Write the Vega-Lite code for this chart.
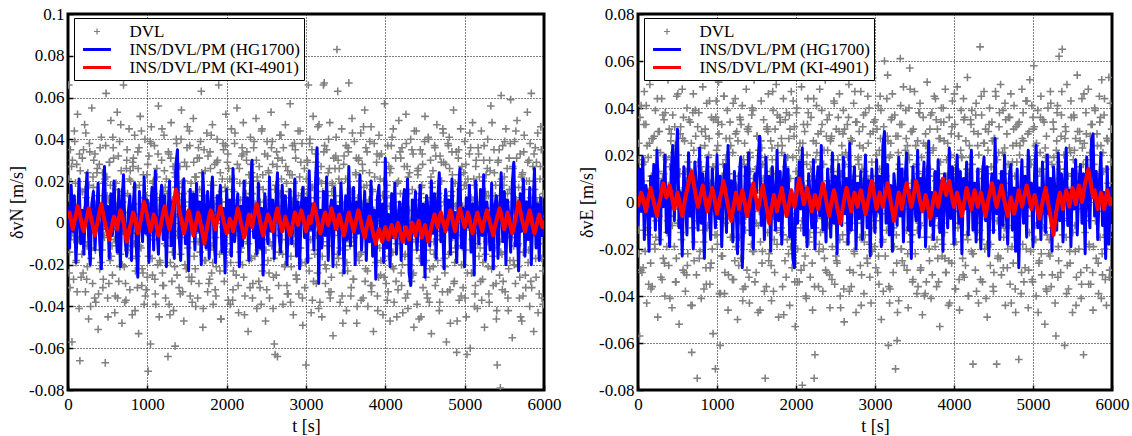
{
"$schema":"https://vega.github.io/schema/vega-lite/v6.json",
"background":"white",
"padding":{"left":7,"top":3,"right":0,"bottom":0},
"spacing":14,
"config":{
"font":"Liberation Serif, Times New Roman, serif",
"view":{"stroke":"black","strokeWidth":3},
"axis":{"domain":false,"grid":true,"gridColor":"black","gridDash":[1,2],"gridWidth":1,"gridOpacity":1,"ticks":true,"tickColor":"black","tickSize":-5,"tickWidth":1.5,"labelFont":"Liberation Serif, Times New Roman, serif","labelFontSize":17,"labelColor":"black","labelFlush":false,"labelOverlap":false,"titleFont":"Liberation Serif, Times New Roman, serif","titleFontSize":18,"titleFontWeight":"normal","titleColor":"black"},
"axisX":{"labelPadding":11,"titlePadding":5},
"axisY":{"labelPadding":9,"titlePadding":2},
"legend":{"fillColor":"white","strokeColor":"black","strokeWidth":1,"padding":4,"labelFont":"Liberation Serif, Times New Roman, serif","labelFontSize":17,"labelColor":"black","labelLimit":400,"symbolSize":361,"symbolStrokeWidth":0,"symbolOffset":9.5,"labelOffset":23,"rowPadding":0}
},
"resolve":{"scale":{"color":"independent","shape":"independent"},"legend":{"color":"independent","shape":"independent"}},
"datasets":{
"dvl":[
{"t":0,"n":0.021,"e":-0.012},{"t":10,"n":0.066,"e":0.025},{"t":20,"n":-0.014,"e":-0.057},{"t":30,"n":0.035,"e":0.008},{"t":40,"n":-0.006,"e":0.041},{"t":50,"n":-0.057,"e":-0.030},{"t":60,"n":0.009,"e":0.016},{"t":70,"n":-0.027,"e":-0.004},{"t":80,"n":0.044,"e":0.047},{"t":90,"n":0.003,"e":-0.021},
{"t":100,"n":-0.019,"e":0.033},{"t":110,"n":0.028,"e":-0.043},{"t":120,"n":0.052,"e":0.002},{"t":130,"n":-0.008,"e":0.019},{"t":140,"n":-0.041,"e":-0.014},{"t":150,"n":-0.066,"e":0.050},{"t":160,"n":0.015,"e":-0.026},{"t":170,"n":-0.002,"e":0.011},{"t":180,"n":0.031,"e":-0.036},{"t":190,"n":-0.024,"e":0.027},
{"t":200,"n":0.006,"e":0.006},{"t":210,"n":0.047,"e":-0.018},{"t":220,"n":-0.033,"e":0.039},{"t":230,"n":0.012,"e":-0.008},{"t":240,"n":-0.011,"e":0.022},{"t":250,"n":0.024,"e":-0.049},{"t":260,"n":-0.046,"e":0.013},{"t":270,"n":0.038,"e":0.030},{"t":280,"n":0.001,"e":-0.002},{"t":290,"n":-0.017,"e":-0.032},
{"t":300,"n":0.055,"e":0.044},{"t":310,"n":-0.029,"e":0.010},{"t":320,"n":0.017,"e":-0.024},{"t":330,"n":-0.004,"e":0.035},{"t":340,"n":0.033,"e":-0.040},{"t":350,"n":-0.038,"e":0.003},{"t":360,"n":0.008,"e":0.018},{"t":370,"n":0.026,"e":-0.013},{"t":380,"n":-0.051,"e":0.052},{"t":390,"n":0.013,"e":-0.027},
{"t":400,"n":-0.022,"e":0.015},{"t":410,"n":0.004,"e":-0.006},{"t":420,"n":0.041,"e":0.029},{"t":430,"n":-0.013,"e":-0.045},{"t":440,"n":-0.031,"e":0.037},{"t":450,"n":0.019,"e":0.001},{"t":460,"n":-0.007,"e":-0.019},{"t":470,"n":-0.067,"e":0.024},{"t":480,"n":0.062,"e":-0.034},{"t":490,"n":0.022,"e":0.045},
{"t":500,"n":-0.036,"e":-0.009},{"t":510,"n":0.011,"e":0.020},{"t":520,"n":0.029,"e":-0.052},{"t":530,"n":-0.018,"e":0.012},{"t":540,"n":0.049,"e":0.032},{"t":550,"n":-0.003,"e":-0.016},{"t":560,"n":-0.025,"e":0.048},{"t":570,"n":0.036,"e":-0.029},{"t":580,"n":0.007,"e":0.005},{"t":590,"n":-0.043,"e":0.026},
{"t":600,"n":0.016,"e":-0.038},{"t":610,"n":-0.009,"e":0.009},{"t":620,"n":0.053,"e":0.040},{"t":630,"n":0.002,"e":-0.022},{"t":640,"n":-0.028,"e":0.014},{"t":650,"n":0.039,"e":-0.003},{"t":660,"n":-0.015,"e":0.034},{"t":670,"n":0.025,"e":-0.044},{"t":680,"n":-0.048,"e":-0.064},{"t":690,"n":0.010,"e":-0.011},
{"t":700,"n":0.066,"e":0.046},{"t":710,"n":-0.021,"e":-0.025},{"t":720,"n":0.005,"e":0.007},{"t":730,"n":-0.037,"e":0.028},{"t":740,"n":0.030,"e":-0.031},{"t":750,"n":0.014,"e":-0.075},{"t":760,"n":-0.011,"e":0.017},{"t":770,"n":0.045,"e":0.038},{"t":780,"n":-0.032,"e":-0.005},{"t":790,"n":0.020,"e":0.023},
{"t":800,"n":-0.005,"e":-0.041},{"t":810,"n":-0.044,"e":0.013},{"t":820,"n":0.027,"e":0.049},{"t":830,"n":0.009,"e":-0.017},{"t":840,"n":0.042,"e":0.004},{"t":850,"n":-0.023,"e":0.031},{"t":860,"n":0.001,"e":-0.028},{"t":870,"n":-0.016,"e":0.042},{"t":880,"n":0.034,"e":-0.010},{"t":890,"n":-0.053,"e":0.019},
{"t":900,"n":0.018,"e":0.027},{"t":910,"n":0.051,"e":-0.035},{"t":920,"n":-0.012,"e":0.008},{"t":930,"n":-0.030,"e":0.036},{"t":940,"n":0.006,"e":-0.020},{"t":950,"n":0.023,"e":-0.056},{"t":960,"n":-0.039,"e":0.015},{"t":970,"n":0.040,"e":-0.003},{"t":980,"n":-0.001,"e":-0.071},{"t":990,"n":0.013,"e":0.043},
{"t":1000,"n":-0.026,"e":-0.014},{"t":1010,"n":-0.071,"e":0.024},{"t":1020,"n":0.032,"e":0.051},{"t":1030,"n":0.008,"e":-0.039},{"t":1040,"n":-0.058,"e":-0.061},{"t":1050,"n":0.046,"e":0.010},{"t":1060,"n":-0.017,"e":0.033},{"t":1070,"n":0.019,"e":-0.023},{"t":1080,"n":-0.008,"e":0.002},{"t":1090,"n":0.037,"e":0.045},
{"t":1100,"n":-0.034,"e":-0.030},{"t":1110,"n":0.003,"e":0.018},{"t":1120,"n":0.026,"e":-0.007},{"t":1130,"n":-0.020,"e":0.039},{"t":1140,"n":0.056,"e":-0.046},{"t":1150,"n":-0.045,"e":0.012},{"t":1160,"n":0.012,"e":0.027},{"t":1170,"n":-0.003,"e":-0.015},{"t":1180,"n":0.030,"e":0.054},{"t":1190,"n":-0.024,"e":-0.001},
{"t":1200,"n":0.015,"e":0.021},{"t":1210,"n":0.042,"e":-0.033},{"t":1220,"n":-0.010,"e":0.006},{"t":1230,"n":-0.036,"e":0.044},{"t":1240,"n":0.021,"e":-0.019},{"t":1250,"n":0,"e":0.030},{"t":1260,"n":-0.064,"e":-0.050},{"t":1270,"n":0.033,"e":0.011},{"t":1280,"n":0.007,"e":-0.008},{"t":1290,"n":-0.019,"e":0.036},
{"t":1300,"n":0.048,"e":-0.024},{"t":1310,"n":-0.028,"e":0.015},{"t":1320,"n":0.011,"e":0.041},{"t":1330,"n":-0.042,"e":-0.037},{"t":1340,"n":0.024,"e":0.003},{"t":1350,"n":-0.059,"e":0.025},{"t":1360,"n":0.017,"e":-0.012},{"t":1370,"n":0.038,"e":0.048},{"t":1380,"n":-0.006,"e":-0.029},{"t":1390,"n":0.004,"e":0.008},
{"t":1400,"n":-0.031,"e":0.032},{"t":1410,"n":0.027,"e":-0.043},{"t":1420,"n":-0.015,"e":0.019},{"t":1430,"n":0.054,"e":-0.004},{"t":1440,"n":-0.002,"e":0.037},{"t":1450,"n":0.014,"e":-0.021},{"t":1460,"n":-0.047,"e":0.010},{"t":1470,"n":0.029,"e":0.052},{"t":1480,"n":0.010,"e":-0.034},{"t":1490,"n":-0.022,"e":0.014},
{"t":1500,"n":0.036,"e":-0.009},{"t":1510,"n":-0.012,"e":0.028},{"t":1520,"n":0.003,"e":-0.047},{"t":1530,"n":0.044,"e":0.022},{"t":1540,"n":-0.035,"e":0.005},{"t":1550,"n":0.019,"e":-0.017},{"t":1560,"n":-0.026,"e":0.043},{"t":1570,"n":0.008,"e":-0.026},{"t":1580,"n":0.050,"e":0.016},{"t":1590,"n":-0.016,"e":0.035},
{"t":1600,"n":0.022,"e":-0.038},{"t":1610,"n":-0.040,"e":-0.075},{"t":1620,"n":0.006,"e":0.009},{"t":1630,"n":0.031,"e":0.031},{"t":1640,"n":-0.009,"e":-0.013},{"t":1650,"n":-0.029,"e":0.046},{"t":1660,"n":0.016,"e":-0.022},{"t":1670,"n":0.039,"e":0.001},{"t":1680,"n":0.063,"e":0.026},{"t":1690,"n":-0.004,"e":-0.042},
{"t":1700,"n":-0.050,"e":0.018},{"t":1710,"n":0.013,"e":0.039},{"t":1720,"n":-0.018,"e":-0.006},{"t":1730,"n":0.025,"e":-0.030},{"t":1740,"n":0.002,"e":0.012},{"t":1750,"n":0.043,"e":0.050},{"t":1760,"n":-0.033,"e":-0.018},{"t":1770,"n":0.009,"e":0.024},{"t":1780,"n":-0.013,"e":-0.049},{"t":1790,"n":0.034,"e":0.007},
{"t":1800,"n":0.018,"e":0.034},{"t":1810,"n":-0.024,"e":-0.011},{"t":1820,"n":0.047,"e":0.021},{"t":1830,"n":-0.039,"e":-0.036},{"t":1840,"n":0.005,"e":0.044},{"t":1850,"n":0.028,"e":0.003},{"t":1860,"n":-0.007,"e":-0.025},{"t":1870,"n":-0.021,"e":0.015},{"t":1880,"n":0.040,"e":0.038},{"t":1890,"n":0.012,"e":-0.016},
{"t":1900,"n":0.066,"e":-0.003},{"t":1910,"n":-0.015,"e":0.027},{"t":1920,"n":0.024,"e":-0.044},{"t":1930,"n":-0.046,"e":0.010},{"t":1940,"n":0.010,"e":0.047},{"t":1950,"n":-0.002,"e":-0.028},{"t":1960,"n":0.035,"e":0.019},{"t":1970,"n":-0.028,"e":-0.008},{"t":1980,"n":0.017,"e":0.032},{"t":1990,"n":0.052,"e":-0.053},
{"t":2000,"n":-0.010,"e":0.013},{"t":2010,"n":0.029,"e":0.040},{"t":2020,"n":-0.037,"e":-0.020},{"t":2030,"n":0.004,"e":0.006},{"t":2040,"n":0.021,"e":-0.034},{"t":2050,"n":-0.019,"e":0.025},{"t":2060,"n":0.045,"e":-0.011},{"t":2070,"n":0.001,"e":0.049},{"t":2080,"n":-0.032,"e":-0.078},{"t":2090,"n":0.015,"e":0.017},
{"t":2100,"n":0.038,"e":-0.027},{"t":2110,"n":-0.006,"e":0.030},{"t":2120,"n":-0.025,"e":0.002},{"t":2130,"n":0.055,"e":-0.041},{"t":2140,"n":0.011,"e":0.020},{"t":2150,"n":-0.043,"e":0.044},{"t":2160,"n":0.026,"e":-0.015},{"t":2170,"n":-0.014,"e":0.009},{"t":2180,"n":0.007,"e":-0.032},{"t":2190,"n":0.032,"e":0.036},
{"t":2200,"n":-0.020,"e":0.011},{"t":2210,"n":0.048,"e":-0.046},{"t":2220,"n":0.003,"e":0.026},{"t":2230,"n":-0.035,"e":-0.075},{"t":2240,"n":0.019,"e":-0.065},{"t":2250,"n":0.030,"e":0.018},{"t":2260,"n":-0.009,"e":0.041},{"t":2270,"n":-0.052,"e":-0.007},{"t":2280,"n":0.023,"e":0.029},{"t":2290,"n":0.006,"e":-0.021},
{"t":2300,"n":0.041,"e":0.048},{"t":2310,"n":-0.017,"e":-0.013},{"t":2320,"n":0.014,"e":0.004},{"t":2330,"n":-0.029,"e":0.033},{"t":2340,"n":0.036,"e":-0.038},{"t":2350,"n":-0.004,"e":0.016},{"t":2360,"n":0.009,"e":-0.024},{"t":2370,"n":0.050,"e":0.052},{"t":2380,"n":-0.041,"e":0},{"t":2390,"n":0.020,"e":-0.030},
{"t":2400,"n":-0.013,"e":0.022},{"t":2410,"n":0.027,"e":-0.010},{"t":2420,"n":-0.031,"e":0.037},{"t":2430,"n":0.002,"e":-0.045},{"t":2440,"n":0.044,"e":0.014},{"t":2450,"n":-0.023,"e":0.028},{"t":2460,"n":0.016,"e":-0.019},{"t":2470,"n":-0.008,"e":0.005},{"t":2480,"n":0.033,"e":0.043},{"t":2490,"n":-0.047,"e":-0.035},
{"t":2500,"n":0.011,"e":0.009},{"t":2510,"n":0.039,"e":0.031},{"t":2520,"n":-0.018,"e":-0.026},{"t":2530,"n":0.024,"e":0.018},{"t":2540,"n":-0.036,"e":-0.004},{"t":2550,"n":0.005,"e":0.046},{"t":2560,"n":0.053,"e":-0.040},{"t":2570,"n":-0.011,"e":0.012},{"t":2580,"n":0.028,"e":0.024},{"t":2590,"n":-0.026,"e":-0.014},
{"t":2600,"n":-0.058,"e":0.039},{"t":2610,"n":-0.063,"e":-0.051},{"t":2620,"n":0.018,"e":0.007},{"t":2630,"n":0.034,"e":0.021},{"t":2640,"n":-0.064,"e":-0.017},{"t":2650,"n":0.008,"e":0.033},{"t":2660,"n":-0.014,"e":-0.009},{"t":2670,"n":0.042,"e":0.050},{"t":2680,"n":-0.003,"e":-0.029},{"t":2690,"n":0.021,"e":0.015},
{"t":2700,"n":0.030,"e":-0.036},{"t":2710,"n":-0.039,"e":0.026},{"t":2720,"n":0.012,"e":0.003},{"t":2730,"n":-0.021,"e":0.042},{"t":2740,"n":0.047,"e":-0.022},{"t":2750,"n":0,"e":0.011},{"t":2760,"n":-0.030,"e":-0.047},{"t":2770,"n":0.025,"e":0.034},{"t":2780,"n":0.015,"e":-0.006},{"t":2790,"n":-0.009,"e":0.019},
{"t":2800,"n":0.057,"e":0.030},{"t":2810,"n":-0.016,"e":-0.015},{"t":2820,"n":0.006,"e":0.047},{"t":2830,"n":0.037,"e":-0.031},{"t":2840,"n":-0.044,"e":0.008},{"t":2850,"n":0.019,"e":0.023},{"t":2860,"n":-0.005,"e":-0.039},{"t":2870,"n":0.031,"e":0.013},{"t":2880,"n":-0.027,"e":0.038},{"t":2890,"n":0.010,"e":-0.002},
{"t":2900,"n":0.044,"e":-0.024},{"t":2910,"n":-0.034,"e":0.045},{"t":2920,"n":0.022,"e":0.010},{"t":2930,"n":-0.012,"e":-0.018},{"t":2940,"n":0.003,"e":0.029},{"t":2950,"n":0.038,"e":-0.043},{"t":2960,"n":-0.049,"e":0.017},{"t":2970,"n":0.014,"e":0.053},{"t":2980,"n":0.026,"e":-0.011},{"t":2990,"n":-0.019,"e":0.004},
{"t":3000,"n":-0.068,"e":0.035},{"t":3010,"n":0.009,"e":-0.028},{"t":3020,"n":0.029,"e":0.020},{"t":3030,"n":0.066,"e":-0.005},{"t":3040,"n":-0.023,"e":0.041},{"t":3050,"n":0.040,"e":-0.035},{"t":3060,"n":-0.008,"e":0.014},{"t":3070,"n":0.017,"e":0.027},{"t":3080,"n":-0.037,"e":-0.050},{"t":3090,"n":0.051,"e":0.008},
{"t":3100,"n":0.004,"e":-0.016},{"t":3110,"n":-0.015,"e":0.032},{"t":3120,"n":0.033,"e":0.060},{"t":3130,"n":-0.029,"e":-0.023},{"t":3140,"n":0.012,"e":0.011},{"t":3150,"n":0.046,"e":0.044},{"t":3160,"n":-0.041,"e":0.054},{"t":3170,"n":0.020,"e":-0.061},{"t":3180,"n":-0.002,"e":0.019},{"t":3190,"n":0.027,"e":-0.037},
{"t":3200,"n":-0.045,"e":0.025},{"t":3210,"n":0.015,"e":-0.008},{"t":3220,"n":0.066,"e":0.046},{"t":3230,"n":0.067,"e":-0.030},{"t":3240,"n":-0.020,"e":0.006},{"t":3250,"n":0.007,"e":0.037},{"t":3260,"n":0.035,"e":-0.071},{"t":3270,"n":-0.011,"e":-0.014},{"t":3280,"n":0.024,"e":-0.059},{"t":3290,"n":-0.033,"e":0.028},
{"t":3300,"n":0.048,"e":-0.042},{"t":3310,"n":0.002,"e":0.016},{"t":3320,"n":-0.026,"e":0.061},{"t":3330,"n":0.019,"e":-0.020},{"t":3340,"n":-0.054,"e":0.033},{"t":3350,"n":0.031,"e":-0.003},{"t":3360,"n":-0.006,"e":0.049},{"t":3370,"n":0.013,"e":-0.027},{"t":3380,"n":0.041,"e":0.010},{"t":3390,"n":0.083,"e":0.039},
{"t":3400,"n":0.063,"e":-0.012},{"t":3410,"n":-0.017,"e":0.024},{"t":3420,"n":0.026,"e":-0.045},{"t":3430,"n":-0.038,"e":0.040},{"t":3440,"n":0.010,"e":0.057},{"t":3450,"n":0.045,"e":-0.017},{"t":3460,"n":-0.024,"e":0.008},{"t":3470,"n":0.004,"e":0.030},{"t":3480,"n":0.032,"e":-0.033},{"t":3490,"n":-0.013,"e":0.015},
{"t":3500,"n":0.021,"e":0.047},{"t":3510,"n":-0.042,"e":-0.022},{"t":3520,"n":0.008,"e":0.003},{"t":3530,"n":0.036,"e":-0.039},{"t":3540,"n":0.067,"e":0.026},{"t":3550,"n":-0.009,"e":0.012},{"t":3560,"n":0.016,"e":-0.009},{"t":3570,"n":-0.031,"e":0.042},{"t":3580,"n":0.050,"e":-0.028},{"t":3590,"n":0.001,"e":0.019},
{"t":3600,"n":-0.027,"e":-0.048},{"t":3610,"n":0.039,"e":0.036},{"t":3620,"n":-0.004,"e":0.007},{"t":3630,"n":0.023,"e":-0.015},{"t":3640,"n":-0.048,"e":0.029},{"t":3650,"n":0.012,"e":-0.034},{"t":3660,"n":0.030,"e":0.051},{"t":3670,"n":-0.018,"e":0.001},{"t":3680,"n":0.006,"e":0.021},{"t":3690,"n":0.043,"e":-0.025},
{"t":3700,"n":-0.014,"e":0.014},{"t":3710,"n":0.028,"e":-0.041},{"t":3720,"n":-0.036,"e":0.038},{"t":3730,"n":0.017,"e":-0.006},{"t":3740,"n":0.054,"e":0.023},{"t":3750,"n":-0.022,"e":0.045},{"t":3760,"n":0.003,"e":-0.019},{"t":3770,"n":0.034,"e":0.009},{"t":3780,"n":-0.040,"e":-0.036},{"t":3790,"n":0.010,"e":0.031},
{"t":3800,"n":0.024,"e":-0.010},{"t":3810,"n":-0.007,"e":0.027},{"t":3820,"n":0.046,"e":-0.053},{"t":3830,"n":-0.030,"e":0.017},{"t":3840,"n":0.015,"e":0.040},{"t":3850,"n":-0.052,"e":-0.023},{"t":3860,"n":0.038,"e":0.004},{"t":3870,"n":0.001,"e":0.034},{"t":3880,"n":-0.019,"e":-0.013},{"t":3890,"n":0.029,"e":0.048},
{"t":3900,"n":-0.035,"e":-0.030},{"t":3910,"n":0.011,"e":0.011},{"t":3920,"n":0.042,"e":0.025},{"t":3930,"n":-0.012,"e":-0.044},{"t":3940,"n":-0.025,"e":0.036},{"t":3950,"n":0.033,"e":-0.001},{"t":3960,"n":0.005,"e":0.020},{"t":3970,"n":-0.044,"e":-0.026},{"t":3980,"n":0.020,"e":0.043},{"t":3990,"n":0.057,"e":0.006},
{"t":4000,"n":-0.003,"e":-0.018},{"t":4010,"n":-0.029,"e":0.033},{"t":4020,"n":0.018,"e":-0.037},{"t":4030,"n":0.037,"e":0.014},{"t":4040,"n":-0.016,"e":0.049},{"t":4050,"n":0.008,"e":-0.011},{"t":4060,"n":-0.047,"e":0.028},{"t":4070,"n":0.026,"e":-0.046},{"t":4080,"n":0.013,"e":0.002},{"t":4090,"n":-0.021,"e":0.039},
{"t":4100,"n":0.045,"e":0.019},{"t":4110,"n":-0.038,"e":-0.024},{"t":4120,"n":0.002,"e":0.044},{"t":4130,"n":0.031,"e":-0.032},{"t":4140,"n":-0.010,"e":0.008},{"t":4150,"n":0.019,"e":0.026},{"t":4160,"n":-0.032,"e":-0.014},{"t":4170,"n":0.049,"e":0.053},{"t":4180,"n":-0.006,"e":-0.040},{"t":4190,"n":0.014,"e":0.012},
{"t":4200,"n":-0.024,"e":-0.003},{"t":4210,"n":0.036,"e":0.035},{"t":4220,"n":-0.043,"e":-0.021},{"t":4230,"n":0.009,"e":0.016},{"t":4240,"n":0.027,"e":-0.069},{"t":4250,"n":-0.015,"e":0.030},{"t":4260,"n":0.052,"e":0.005},{"t":4270,"n":-0.001,"e":-0.029},{"t":4280,"n":-0.034,"e":0.042},{"t":4290,"n":0.022,"e":-0.009},
{"t":4300,"n":0.006,"e":0.024},{"t":4310,"n":-0.020,"e":-0.043},{"t":4320,"n":0.040,"e":0.013},{"t":4330,"n":-0.028,"e":0.066},{"t":4340,"n":0.016,"e":-0.016},{"t":4350,"n":0.033,"e":0.037},{"t":4360,"n":-0.050,"e":-0.034},{"t":4370,"n":0.011,"e":0.010},{"t":4380,"n":-0.008,"e":0.047},{"t":4390,"n":0.044,"e":-0.020},
{"t":4400,"n":-0.039,"e":0.031},{"t":4410,"n":0.023,"e":0.001},{"t":4420,"n":0.003,"e":-0.049},{"t":4430,"n":-0.017,"e":0.022},{"t":4440,"n":0.035,"e":-0.007},{"t":4450,"n":-0.045,"e":0.040},{"t":4460,"n":0.018,"e":-0.027},{"t":4470,"n":0.028,"e":0.015},{"t":4480,"n":-0.011,"e":0.034},{"t":4490,"n":0.007,"e":-0.012},
{"t":4500,"n":0.051,"e":-0.038},{"t":4510,"n":-0.026,"e":0.027},{"t":4520,"n":0.012,"e":0.006},{"t":4530,"n":-0.036,"e":0.045},{"t":4540,"n":0.041,"e":-0.069},{"t":4550,"n":0,"e":0.018},{"t":4560,"n":-0.022,"e":-0.023},{"t":4570,"n":0.030,"e":0.032},{"t":4580,"n":-0.053,"e":-0.002},{"t":4590,"n":0.017,"e":0.050},
{"t":4600,"n":0.025,"e":-0.031},{"t":4610,"n":-0.009,"e":0.012},{"t":4620,"n":0.037,"e":0.039},{"t":4630,"n":-0.030,"e":-0.015},{"t":4640,"n":0.005,"e":0.023},{"t":4650,"n":0.047,"e":-0.044},{"t":4660,"n":-0.018,"e":0.008},{"t":4670,"n":0.014,"e":0.029},{"t":4680,"n":-0.042,"e":-0.020},{"t":4690,"n":0.032,"e":0.036},
{"t":4700,"n":-0.004,"e":0.004},{"t":4710,"n":0.020,"e":-0.035},{"t":4720,"n":-0.033,"e":0.046},{"t":4730,"n":0.043,"e":-0.010},{"t":4740,"n":0.010,"e":0.017},{"t":4750,"n":-0.024,"e":-0.026},{"t":4760,"n":0.028,"e":0.041},{"t":4770,"n":-0.057,"e":0.011},{"t":4780,"n":0.002,"e":-0.047},{"t":4790,"n":0.038,"e":0.025},
{"t":4800,"n":-0.015,"e":-0.013},{"t":4810,"n":0.026,"e":0.033},{"t":4820,"n":-0.048,"e":-0.067},{"t":4830,"n":0.013,"e":0.020},{"t":4840,"n":0.034,"e":0.003},{"t":4850,"n":-0.007,"e":-0.039},{"t":4860,"n":0.054,"e":0.048},{"t":4870,"n":-0.028,"e":-0.018},{"t":4880,"n":0.019,"e":0.026},{"t":4890,"n":-0.012,"e":0.009},
{"t":4900,"n":-0.062,"e":-0.028},{"t":4910,"n":0.009,"e":0.043},{"t":4920,"n":0.031,"e":-0.006},{"t":4930,"n":-0.037,"e":0.015},{"t":4940,"n":0.016,"e":-0.045},{"t":4950,"n":0.045,"e":0.030},{"t":4960,"n":-0.020,"e":0.052},{"t":4970,"n":0.004,"e":-0.021},{"t":4980,"n":-0.031,"e":0.007},{"t":4990,"n":0.024,"e":-0.033},
{"t":5000,"n":0.039,"e":0.036},{"t":5010,"n":-0.013,"e":0.058},{"t":5020,"n":-0.045,"e":-0.016},{"t":5030,"n":-0.063,"e":0.024},{"t":5040,"n":0.021,"e":-0.040},{"t":5050,"n":0.007,"e":0.011},{"t":5060,"n":0.033,"e":0.039},{"t":5070,"n":-0.060,"e":-0.009},{"t":5080,"n":0.012,"e":-0.025},{"t":5090,"n":-0.024,"e":0.021},
{"t":5100,"n":0.048,"e":0.045},{"t":5110,"n":-0.005,"e":-0.031},{"t":5120,"n":0.018,"e":0.014},{"t":5130,"n":-0.034,"e":-0.004},{"t":5140,"n":0.027,"e":0.034},{"t":5150,"n":0.002,"e":-0.052},{"t":5160,"n":-0.041,"e":0.019},{"t":5170,"n":0.036,"e":0.028},{"t":5180,"n":-0.016,"e":-0.014},{"t":5190,"n":0.010,"e":0.040},
{"t":5200,"n":-0.028,"e":-0.022},{"t":5210,"n":0.044,"e":0.006},{"t":5220,"n":0.006,"e":0.047},{"t":5230,"n":-0.019,"e":-0.036},{"t":5240,"n":0.030,"e":0.016},{"t":5250,"n":-0.050,"e":-0.011},{"t":5260,"n":0.015,"e":0.031},{"t":5270,"n":0.023,"e":0.001},{"t":5280,"n":-0.009,"e":-0.043},{"t":5290,"n":0.040,"e":-0.057},
{"t":5300,"n":0.013,"e":0.026},{"t":5310,"n":-0.038,"e":0.041},{"t":5320,"n":0.025,"e":-0.019},{"t":5330,"n":0.056,"e":0.062},{"t":5340,"n":-0.022,"e":0.010},{"t":5350,"n":0.003,"e":-0.030},{"t":5360,"n":-0.030,"e":0.037},{"t":5370,"n":0.035,"e":0.065},{"t":5380,"n":-0.012,"e":-0.008},{"t":5390,"n":0.018,"e":0.020},
{"t":5400,"n":-0.046,"e":-0.061},{"t":5410,"n":-0.068,"e":0.032},{"t":5420,"n":0.029,"e":-0.015},{"t":5430,"n":0.008,"e":0.050},{"t":5440,"n":-0.025,"e":0.004},{"t":5450,"n":-0.079,"e":-0.037},{"t":5460,"n":0.061,"e":0.023},{"t":5470,"n":-0.015,"e":-0.026},{"t":5480,"n":0.037,"e":0.043},{"t":5490,"n":0.001,"e":0.012},
{"t":5500,"n":0.022,"e":-0.047},{"t":5510,"n":-0.033,"e":0.018},{"t":5520,"n":0.045,"e":0.036},{"t":5530,"n":-0.007,"e":-0.010},{"t":5540,"n":0.014,"e":0.027},{"t":5550,"n":-0.042,"e":-0.032},{"t":5560,"n":0.031,"e":0.054},{"t":5570,"n":-0.018,"e":0.007},{"t":5580,"n":0.059,"e":-0.020},{"t":5590,"n":0.005,"e":0.030},
{"t":5600,"n":-0.055,"e":0.015},{"t":5610,"n":0.026,"e":-0.041},{"t":5620,"n":-0.011,"e":0.044},{"t":5630,"n":0.039,"e":0.002},{"t":5640,"n":-0.029,"e":-0.065},{"t":5650,"n":0.011,"e":0.025},{"t":5660,"n":0.049,"e":-0.013},{"t":5670,"n":-0.021,"e":0.038},{"t":5680,"n":0.017,"e":-0.028},{"t":5690,"n":-0.036,"e":0.011},
{"t":5700,"n":0.033,"e":0.048},{"t":5710,"n":0.002,"e":-0.018},{"t":5720,"n":-0.047,"e":0.021},{"t":5730,"n":0.024,"e":-0.035},{"t":5740,"n":-0.014,"e":0.006},{"t":5750,"n":0.042,"e":0.033},{"t":5760,"n":0.009,"e":-0.046},{"t":5770,"n":-0.031,"e":0.016},{"t":5780,"n":0.020,"e":0.040},{"t":5790,"n":0.053,"e":-0.008},
{"t":5800,"n":-0.019,"e":-0.024},{"t":5810,"n":0.030,"e":0.029},{"t":5820,"n":-0.040,"e":0.010},{"t":5830,"n":0.012,"e":-0.039},{"t":5840,"n":0.062,"e":0.045},{"t":5850,"n":-0.006,"e":-0.015},{"t":5860,"n":0.027,"e":0.024},{"t":5870,"n":-0.052,"e":0.052},{"t":5880,"n":0.016,"e":-0.031},{"t":5890,"n":0.036,"e":0.003},
{"t":5900,"n":-0.026,"e":0.037},{"t":5910,"n":0.007,"e":-0.020},{"t":5920,"n":0.043,"e":0.014},{"t":5930,"n":-0.010,"e":-0.044},{"t":5940,"n":-0.034,"e":0.027},{"t":5950,"n":0.021,"e":0.008},{"t":5960,"n":0.046,"e":0.053},{"t":5970,"n":-0.017,"e":-0.029},{"t":5980,"n":0.003,"e":0.042},{"t":5990,"n":-0.039,"e":-0.011},
{"t":5,"n":0.012,"e":-0.022},{"t":25,"n":-0.031,"e":0.036},{"t":45,"n":0.027,"e":0.009},{"t":65,"n":-0.005,"e":-0.028},{"t":85,"n":0.039,"e":0.017},{"t":105,"n":-0.018,"e":0.041},{"t":125,"n":0.004,"e":-0.011},{"t":145,"n":0.033,"e":0.025},{"t":165,"n":-0.026,"e":-0.037},{"t":185,"n":0.015,"e":0.003},
{"t":205,"n":-0.009,"e":0.028},{"t":225,"n":0.043,"e":-0.015},{"t":245,"n":-0.021,"e":0.044},{"t":265,"n":0.018,"e":-0.006},{"t":285,"n":-0.040,"e":0.021},{"t":305,"n":0.007,"e":-0.033},{"t":325,"n":0.030,"e":0.012},{"t":345,"n":-0.013,"e":0.038},{"t":365,"n":0.024,"e":-0.019},{"t":385,"n":-0.034,"e":0.007},
{"t":405,"n":0.036,"e":-0.041},{"t":425,"n":-0.003,"e":0.019},{"t":445,"n":-0.027,"e":-0.002},{"t":465,"n":0.021,"e":0.032},{"t":485,"n":0.010,"e":-0.024},{"t":505,"n":-0.045,"e":0.046},{"t":525,"n":0.029,"e":0.005},{"t":545,"n":-0.016,"e":-0.013},{"t":565,"n":0.041,"e":0.027},{"t":585,"n":-0.008,"e":-0.030},
{"t":605,"n":0.019,"e":0.013},{"t":625,"n":-0.036,"e":-0.027},{"t":645,"n":0.006,"e":0.035},{"t":665,"n":0.047,"e":0.001},{"t":685,"n":-0.020,"e":-0.044},{"t":705,"n":0.013,"e":0.022},{"t":725,"n":-0.029,"e":0.039},{"t":745,"n":0.035,"e":-0.008},{"t":765,"n":-0.002,"e":0.017},{"t":785,"n":0.025,"e":-0.021},
{"t":805,"n":-0.017,"e":0.030},{"t":825,"n":0.031,"e":-0.012},{"t":845,"n":-0.042,"e":0.024},{"t":865,"n":0.003,"e":-0.035},{"t":885,"n":0.026,"e":0.008},{"t":905,"n":-0.011,"e":0.043},{"t":925,"n":0.044,"e":-0.026},{"t":945,"n":-0.024,"e":0.015},{"t":965,"n":0.009,"e":-0.004},{"t":985,"n":-0.032,"e":0.036},
{"t":1005,"n":0.028,"e":-0.018},{"t":1025,"n":-0.006,"e":0.029},{"t":1045,"n":0.038,"e":-0.039},{"t":1065,"n":-0.025,"e":0.011},{"t":1085,"n":0.014,"e":0.045},{"t":1105,"n":-0.039,"e":-0.009},{"t":1125,"n":0.022,"e":0.020},{"t":1145,"n":0.001,"e":-0.031},{"t":1165,"n":-0.019,"e":0.034},{"t":1185,"n":0.045,"e":0.002},
{"t":1205,"n":-0.030,"e":0.042},{"t":1225,"n":0.017,"e":-0.025},{"t":1245,"n":-0.011,"e":0.007},{"t":1265,"n":0.034,"e":0.026},{"t":1285,"n":-0.044,"e":-0.015},{"t":1305,"n":0.008,"e":0.033},{"t":1325,"n":0.027,"e":-0.042},{"t":1345,"n":-0.021,"e":0.016},{"t":1365,"n":0.040,"e":-0.006},{"t":1385,"n":-0.004,"e":0.031},
{"t":1405,"n":0.011,"e":-0.032},{"t":1425,"n":0.040,"e":0.013},{"t":1445,"n":-0.033,"e":0.040},{"t":1465,"n":0.020,"e":-0.021},{"t":1485,"n":-0.007,"e":0.004},{"t":1505,"n":0.046,"e":0.028},{"t":1525,"n":-0.026,"e":-0.010},{"t":1545,"n":0.015,"e":-0.046},{"t":1565,"n":-0.038,"e":0.023},{"t":1585,"n":0.029,"e":0.010},
{"t":1605,"n":-0.022,"e":0.019},{"t":1625,"n":0.005,"e":-0.036},{"t":1645,"n":0.036,"e":0.030},{"t":1665,"n":-0.014,"e":0.006},{"t":1685,"n":0.024,"e":-0.027},{"t":1705,"n":-0.041,"e":0.047},{"t":1725,"n":0.012,"e":-0.016},{"t":1745,"n":-0.003,"e":0.012},{"t":1765,"n":0.032,"e":0.037},{"t":1785,"n":-0.027,"e":-0.003},
{"t":1805,"n":0.042,"e":-0.013},{"t":1825,"n":-0.019,"e":0.024},{"t":1845,"n":0.009,"e":-0.048},{"t":1865,"n":-0.035,"e":0.035},{"t":1885,"n":0.030,"e":0.010},{"t":1905,"n":0.003,"e":-0.022},{"t":1925,"n":-0.046,"e":0.031},{"t":1945,"n":0.021,"e":-0.005},{"t":1965,"n":-0.010,"e":0.043},{"t":1985,"n":0.037,"e":-0.034},
{"t":2005,"n":-0.005,"e":0.038},{"t":2025,"n":0.026,"e":-0.003},{"t":2045,"n":-0.039,"e":0.018},{"t":2065,"n":0.016,"e":-0.029},{"t":2085,"n":-0.023,"e":0.025},{"t":2105,"n":0.043,"e":0.007},{"t":2125,"n":0.007,"e":-0.040},{"t":2145,"n":-0.030,"e":0.033},{"t":2165,"n":0.019,"e":-0.017},{"t":2185,"n":-0.012,"e":0.014},
{"t":2205,"n":0.033,"e":-0.026},{"t":2225,"n":-0.044,"e":0.044},{"t":2245,"n":0.014,"e":-0.011},{"t":2265,"n":0.002,"e":0.021},{"t":2285,"n":-0.018,"e":-0.036},{"t":2305,"n":0.028,"e":0.015},{"t":2325,"n":-0.036,"e":0.039},{"t":2345,"n":0.039,"e":-0.020},{"t":2365,"n":-0.001,"e":0.006},{"t":2385,"n":0.022,"e":0.028},
{"t":2405,"n":-0.028,"e":0.009},{"t":2425,"n":0.010,"e":-0.031},{"t":2445,"n":0.045,"e":0.027},{"t":2465,"n":-0.020,"e":-0.007},{"t":2485,"n":0.005,"e":0.042},{"t":2505,"n":-0.032,"e":-0.023},{"t":2525,"n":0.025,"e":0.013},{"t":2545,"n":-0.009,"e":0.030},{"t":2565,"n":0.036,"e":-0.045},{"t":2585,"n":-0.041,"e":0.020},
{"t":2605,"n":0.016,"e":-0.037},{"t":2625,"n":-0.025,"e":0.016},{"t":2645,"n":0.031,"e":0.004},{"t":2665,"n":-0.006,"e":0.036},{"t":2685,"n":0.042,"e":-0.012},{"t":2705,"n":-0.015,"e":0.026},{"t":2725,"n":0.001,"e":-0.030},{"t":2745,"n":0.027,"e":0.047},{"t":2765,"n":-0.034,"e":-0.002},{"t":2785,"n":0.012,"e":0.018},
{"t":2805,"n":-0.038,"e":0.024},{"t":2825,"n":0.023,"e":-0.044},{"t":2845,"n":-0.010,"e":0.032},{"t":2865,"n":0.035,"e":-0.017},{"t":2885,"n":-0.027,"e":0.010},{"t":2905,"n":0.013,"e":-0.026},{"t":2925,"n":0.044,"e":0.040},{"t":2945,"n":-0.019,"e":0.001},{"t":2965,"n":0.006,"e":-0.021},{"t":2985,"n":-0.031,"e":0.034},
{"t":3005,"n":0.021,"e":-0.008},{"t":3025,"n":-0.004,"e":0.031},{"t":3045,"n":0.038,"e":-0.023},{"t":3065,"n":-0.043,"e":0.045},{"t":3085,"n":0.017,"e":0.005},{"t":3105,"n":-0.013,"e":-0.038},{"t":3125,"n":0.029,"e":0.019},{"t":3145,"n":-0.024,"e":-0.012},{"t":3165,"n":0.047,"e":0.026},{"t":3185,"n":0.003,"e":-0.043},
{"t":3205,"n":-0.016,"e":0.035},{"t":3225,"n":0.034,"e":0.002},{"t":3245,"n":-0.029,"e":-0.019},{"t":3265,"n":0.008,"e":0.028},{"t":3285,"n":0.040,"e":-0.047},{"t":3305,"n":-0.036,"e":0.014},{"t":3325,"n":0.015,"e":0.041},{"t":3345,"n":-0.002,"e":-0.025},{"t":3365,"n":0.026,"e":0.009},{"t":3385,"n":-0.020,"e":0.022},
{"t":3405,"n":0.030,"e":-0.029},{"t":3425,"n":-0.012,"e":0.020},{"t":3445,"n":0.019,"e":0.048},{"t":3465,"n":-0.048,"e":-0.014},{"t":3485,"n":0.004,"e":0.031},{"t":3505,"n":0.037,"e":-0.005},{"t":3525,"n":-0.023,"e":0.016},{"t":3545,"n":0.012,"e":-0.036},{"t":3565,"n":-0.035,"e":0.038},{"t":3585,"n":0.043,"e":-0.010},
{"t":3605,"n":-0.007,"e":0.013},{"t":3625,"n":0.024,"e":-0.040},{"t":3645,"n":-0.040,"e":0.024},{"t":3665,"n":0.031,"e":0.006},{"t":3685,"n":-0.015,"e":-0.020},{"t":3705,"n":0.009,"e":0.037},{"t":3725,"n":0.046,"e":-0.031},{"t":3745,"n":-0.028,"e":0.011},{"t":3765,"n":0.018,"e":0.044},{"t":3785,"n":-0.001,"e":-0.016},
{"t":3805,"n":0.039,"e":-0.034},{"t":3825,"n":-0.033,"e":0.027},{"t":3845,"n":0.006,"e":-0.009},{"t":3865,"n":0.022,"e":0.040},{"t":3885,"n":-0.011,"e":-0.024},{"t":3905,"n":-0.042,"e":0.018},{"t":3925,"n":0.032,"e":0.002},{"t":3945,"n":-0.018,"e":-0.043},{"t":3965,"n":0.013,"e":0.029},{"t":3985,"n":-0.026,"e":0.008},
{"t":4005,"n":0.015,"e":0.046},{"t":4025,"n":-0.037,"e":-0.017},{"t":4045,"n":0.027,"e":0.010},{"t":4065,"n":-0.003,"e":-0.033},{"t":4085,"n":0.041,"e":0.022},{"t":4105,"n":-0.022,"e":-0.003},{"t":4125,"n":0.010,"e":0.035},{"t":4145,"n":-0.045,"e":-0.027},{"t":4165,"n":0.020,"e":0.014},{"t":4185,"n":0.034,"e":-0.040},
{"t":4205,"n":-0.030,"e":0.019},{"t":4225,"n":0.007,"e":0.039},{"t":4245,"n":-0.016,"e":-0.022},{"t":4265,"n":0.038,"e":0.007},{"t":4285,"n":-0.041,"e":-0.038},{"t":4305,"n":0.024,"e":0.029},{"t":4325,"n":0.001,"e":-0.012},{"t":4345,"n":-0.025,"e":0.045},{"t":4365,"n":0.044,"e":-0.006},{"t":4385,"n":-0.009,"e":0.025},
{"t":4405,"n":0.025,"e":-0.041},{"t":4425,"n":-0.046,"e":0.012},{"t":4445,"n":0.014,"e":0.033},{"t":4465,"n":0.033,"e":-0.018},{"t":4485,"n":-0.019,"e":0.026},{"t":4505,"n":0.005,"e":-0.030},{"t":4525,"n":-0.034,"e":0.047},{"t":4545,"n":0.040,"e":-0.008},{"t":4565,"n":-0.013,"e":0.021},{"t":4585,"n":0.019,"e":-0.024},
{"t":4605,"n":-0.021,"e":0.003},{"t":4625,"n":0.036,"e":-0.028},{"t":4645,"n":-0.008,"e":0.042},{"t":4665,"n":0.012,"e":-0.011},{"t":4685,"n":-0.038,"e":0.016},{"t":4705,"n":0.029,"e":0.036},{"t":4725,"n":0.045,"e":-0.043},{"t":4745,"n":-0.017,"e":0.024},{"t":4765,"n":0.003,"e":-0.015},{"t":4785,"n":-0.033,"e":0.032},
{"t":4805,"n":0.041,"e":-0.020},{"t":4825,"n":-0.014,"e":0.034},{"t":4845,"n":0.023,"e":-0.005},{"t":4865,"n":-0.029,"e":0.027},{"t":4885,"n":0.008,"e":-0.034},{"t":4905,"n":-0.047,"e":0.009},{"t":4925,"n":0.035,"e":0.043},{"t":4945,"n":-0.006,"e":-0.029},{"t":4965,"n":0.027,"e":0.018},{"t":4985,"n":-0.020,"e":0.041},
{"t":5005,"n":-0.036,"e":0.031},{"t":5025,"n":0.018,"e":-0.010},{"t":5045,"n":-0.002,"e":0.025},{"t":5065,"n":0.043,"e":-0.047},{"t":5085,"n":-0.024,"e":0.013},{"t":5105,"n":0.011,"e":-0.022},{"t":5125,"n":-0.040,"e":0.035},{"t":5145,"n":0.030,"e":0.004},{"t":5165,"n":-0.010,"e":-0.037},{"t":5185,"n":0.022,"e":0.017},
{"t":5205,"n":0.007,"e":-0.016},{"t":5225,"n":-0.027,"e":0.042},{"t":5245,"n":0.037,"e":-0.031},{"t":5265,"n":-0.015,"e":0.019},{"t":5285,"n":0.026,"e":0.002},{"t":5305,"n":-0.034,"e":0.038},{"t":5325,"n":0.004,"e":-0.025},{"t":5345,"n":0.048,"e":0.014},{"t":5365,"n":-0.021,"e":0.047},{"t":5385,"n":0.013,"e":-0.007},
{"t":5405,"n":-0.042,"e":0.027},{"t":5425,"n":0.030,"e":-0.039},{"t":5445,"n":-0.009,"e":0.011},{"t":5465,"n":0.021,"e":-0.021},{"t":5485,"n":-0.028,"e":0.036},{"t":5505,"n":0.039,"e":-0.013},{"t":5525,"n":0.010,"e":0.022},{"t":5545,"n":-0.036,"e":-0.044},{"t":5565,"n":0.016,"e":0.030},{"t":5585,"n":-0.003,"e":0.005},
{"t":5605,"n":0.027,"e":-0.030},{"t":5625,"n":-0.020,"e":0.023},{"t":5645,"n":0.044,"e":0.046},{"t":5665,"n":-0.011,"e":-0.006},{"t":5685,"n":0.002,"e":0.018},{"t":5705,"n":-0.045,"e":-0.035},{"t":5725,"n":0.023,"e":0.028},{"t":5745,"n":0.034,"e":0.008},{"t":5765,"n":-0.025,"e":-0.019},{"t":5785,"n":0.009,"e":0.039},
{"t":5805,"n":-0.013,"e":0.012},{"t":5825,"n":0.038,"e":-0.026},{"t":5845,"n":-0.031,"e":0.034},{"t":5865,"n":0.016,"e":-0.041},{"t":5885,"n":-0.005,"e":0.021},{"t":5905,"n":0.029,"e":0.044},{"t":5925,"n":-0.043,"e":-0.014},{"t":5945,"n":0.012,"e":0.026},{"t":5965,"n":0.035,"e":-0.032},{"t":5985,"n":-0.023,"e":0.017},
{"t":15,"n":-0.024,"e":0.018},{"t":35,"n":0.011,"e":-0.029},{"t":55,"n":0.030,"e":0.004},{"t":75,"n":-0.008,"e":0.033},{"t":95,"n":0.019,"e":-0.012},{"t":115,"n":-0.033,"e":0.024},{"t":135,"n":0.002,"e":-0.035},{"t":155,"n":0.025,"e":0.009},{"t":175,"n":-0.015,"e":0.027},{"t":195,"n":0.035,"e":-0.005},
{"t":215,"n":0.016,"e":-0.020},{"t":235,"n":-0.027,"e":0.013},{"t":255,"n":0.005,"e":0.030},{"t":275,"n":0.034,"e":-0.016},{"t":295,"n":-0.012,"e":0.002},{"t":315,"n":0.022,"e":0.037},{"t":335,"n":-0.036,"e":-0.026},{"t":355,"n":0.009,"e":0.019},{"t":375,"n":-0.002,"e":-0.008},{"t":395,"n":0.028,"e":0.031},
{"t":415,"n":-0.019,"e":0.026},{"t":435,"n":0.024,"e":-0.010},{"t":455,"n":-0.006,"e":0.021},{"t":475,"n":0.037,"e":-0.034},{"t":495,"n":0.013,"e":0.014},{"t":515,"n":-0.029,"e":-0.003},{"t":535,"n":0.018,"e":0.029},{"t":555,"n":-0.011,"e":-0.022},{"t":575,"n":0.031,"e":0.036},{"t":595,"n":-0.035,"e":0.006},
{"t":615,"n":0.008,"e":-0.031},{"t":635,"n":0.032,"e":0.017},{"t":655,"n":-0.021,"e":-0.005},{"t":675,"n":0.015,"e":0.025},{"t":695,"n":-0.004,"e":0.038},{"t":715,"n":-0.038,"e":-0.017},{"t":735,"n":0.026,"e":0.008},{"t":755,"n":-0.013,"e":0.032},{"t":775,"n":0.021,"e":-0.024},{"t":795,"n":0.001,"e":0.015},
{"t":815,"n":0.029,"e":0.010},{"t":835,"n":-0.010,"e":-0.037},{"t":855,"n":0.017,"e":0.028},{"t":875,"n":-0.031,"e":-0.011},{"t":895,"n":0.036,"e":0.020},{"t":915,"n":0.004,"e":-0.028},{"t":935,"n":-0.022,"e":0.003},{"t":955,"n":0.012,"e":0.035},{"t":975,"n":-0.035,"e":-0.014},{"t":995,"n":0.023,"e":0.022},
{"t":1015,"n":-0.016,"e":0.034},{"t":1035,"n":0.039,"e":0.001},{"t":1055,"n":-0.003,"e":-0.023},{"t":1075,"n":0.020,"e":0.016},{"t":1095,"n":-0.027,"e":-0.039},{"t":1115,"n":0.011,"e":0.027},{"t":1135,"n":0.033,"e":0.012},{"t":1155,"n":-0.018,"e":-0.006},{"t":1175,"n":0.006,"e":0.024},{"t":1195,"n":-0.030,"e":-0.033},
{"t":1215,"n":0.025,"e":-0.015},{"t":1235,"n":-0.007,"e":0.029},{"t":1255,"n":0.014,"e":0.006},{"t":1275,"n":-0.039,"e":-0.027},{"t":1295,"n":0.031,"e":0.035},{"t":1315,"n":-0.014,"e":-0.009},{"t":1335,"n":0.003,"e":0.018},{"t":1355,"n":0.022,"e":-0.036},{"t":1375,"n":-0.025,"e":0.011},{"t":1395,"n":0.017,"e":0.030},
{"t":1415,"n":-0.034,"e":0.021},{"t":1435,"n":0.019,"e":-0.018},{"t":1455,"n":0.008,"e":0.039},{"t":1475,"n":-0.020,"e":0.004},{"t":1495,"n":0.027,"e":-0.030},{"t":1515,"n":-0.001,"e":0.015},{"t":1535,"n":0.037,"e":-0.004},{"t":1555,"n":-0.028,"e":0.026},{"t":1575,"n":0.012,"e":-0.021},{"t":1595,"n":-0.009,"e":0.008},
{"t":1615,"n":0.022,"e":-0.007},{"t":1635,"n":-0.036,"e":0.032},{"t":1655,"n":0.031,"e":-0.025},{"t":1675,"n":-0.005,"e":0.013},{"t":1695,"n":0.013,"e":0.023},{"t":1715,"n":0.035,"e":-0.038},{"t":1735,"n":-0.018,"e":0.031},{"t":1755,"n":0.004,"e":-0.012},{"t":1775,"n":-0.029,"e":0.005},{"t":1795,"n":0.026,"e":0.036},
{"t":1815,"n":-0.011,"e":0.027},{"t":1835,"n":0.018,"e":-0.014},{"t":1855,"n":-0.032,"e":0.008},{"t":1875,"n":0.029,"e":-0.032},{"t":1895,"n":0.002,"e":0.019},{"t":1915,"n":-0.023,"e":0.037},{"t":1935,"n":0.015,"e":-0.019},{"t":1955,"n":0.038,"e":0.002},{"t":1975,"n":-0.007,"e":0.028},{"t":1995,"n":0.010,"e":-0.026},
{"t":2015,"n":0.033,"e":-0.034},{"t":2035,"n":-0.014,"e":0.022},{"t":2055,"n":0.007,"e":0.011},{"t":2075,"n":-0.037,"e":-0.008},{"t":2095,"n":0.021,"e":0.033},{"t":2115,"n":-0.004,"e":-0.023},{"t":2135,"n":0.028,"e":0.016},{"t":2155,"n":-0.019,"e":0.038},{"t":2175,"n":0.011,"e":-0.013},{"t":2195,"n":0.036,"e":0.004},
{"t":2215,"n":-0.026,"e":0.017},{"t":2235,"n":0.012,"e":-0.036},{"t":2255,"n":0.034,"e":0.025},{"t":2275,"n":-0.010,"e":0.001},{"t":2295,"n":-0.031,"e":-0.018},{"t":2315,"n":0.024,"e":0.030},{"t":2335,"n":0.005,"e":-0.007},{"t":2355,"n":-0.016,"e":0.022},{"t":2375,"n":0.030,"e":-0.029},{"t":2395,"n":-0.002,"e":0.035},
{"t":2415,"n":0.017,"e":-0.010},{"t":2435,"n":-0.039,"e":0.026},{"t":2455,"n":0.023,"e":-0.033},{"t":2475,"n":0.003,"e":0.018},{"t":2495,"n":-0.013,"e":0.007},{"t":2515,"n":0.032,"e":-0.025},{"t":2535,"n":-0.024,"e":0.036},{"t":2555,"n":0.009,"e":-0.016},{"t":2575,"n":0.039,"e":0.012},{"t":2595,"n":-0.017,"e":0.029},
{"t":2615,"n":0.006,"e":0.031},{"t":2635,"n":0.027,"e":-0.004},{"t":2655,"n":-0.030,"e":0.019},{"t":2675,"n":0.014,"e":-0.038},{"t":2695,"n":-0.008,"e":0.027},{"t":2715,"n":0.036,"e":0.008},{"t":2735,"n":-0.020,"e":-0.021},{"t":2755,"n":0.019,"e":0.034},{"t":2775,"n":-0.034,"e":-0.009},{"t":2795,"n":0.023,"e":0.016},
{"t":2815,"n":-0.021,"e":-0.027},{"t":2835,"n":0.010,"e":0.014},{"t":2855,"n":0.038,"e":0.037},{"t":2875,"n":-0.025,"e":-0.014},{"t":2895,"n":0.004,"e":0.003},{"t":2915,"n":-0.012,"e":0.025},{"t":2935,"n":0.029,"e":-0.032},{"t":2955,"n":-0.036,"e":0.011},{"t":2975,"n":0.016,"e":0.030},{"t":2995,"n":0.001,"e":-0.019},
{"t":3015,"n":0.030,"e":0.008},{"t":3035,"n":-0.017,"e":-0.030},{"t":3055,"n":0.012,"e":0.022},{"t":3075,"n":0.035,"e":0.039},{"t":3095,"n":-0.028,"e":-0.017},{"t":3115,"n":0.007,"e":0.012},{"t":3135,"n":-0.006,"e":-0.005},{"t":3155,"n":0.024,"e":0.028},{"t":3175,"n":-0.038,"e":-0.036},{"t":3195,"n":0.019,"e":0.020},
{"t":3215,"n":-0.009,"e":0.036},{"t":3235,"n":0.037,"e":-0.011},{"t":3255,"n":-0.022,"e":0.004},{"t":3275,"n":0.013,"e":-0.026},{"t":3295,"n":0.026,"e":0.021},{"t":3315,"n":-0.033,"e":0.033},{"t":3335,"n":0.018,"e":-0.020},{"t":3355,"n":-0.003,"e":0.013},{"t":3375,"n":0.032,"e":-0.003},{"t":3395,"n":-0.015,"e":0.027},
{"t":3415,"n":0.021,"e":-0.022},{"t":3435,"n":-0.004,"e":0.018},{"t":3455,"n":-0.035,"e":0.030},{"t":3475,"n":0.028,"e":-0.034},{"t":3495,"n":0.009,"e":0.006},{"t":3515,"n":-0.019,"e":0.024},{"t":3535,"n":0.034,"e":-0.012},{"t":3555,"n":-0.011,"e":0.038},{"t":3575,"n":0.015,"e":-0.029},{"t":3595,"n":-0.027,"e":0.010},
{"t":3615,"n":0.003,"e":0.025},{"t":3635,"n":0.031,"e":-0.039},{"t":3655,"n":-0.016,"e":0.014},{"t":3675,"n":0.020,"e":0.003},{"t":3695,"n":-0.037,"e":0.031},{"t":3715,"n":0.025,"e":-0.015},{"t":3735,"n":-0.001,"e":0.022},{"t":3755,"n":0.036,"e":-0.007},{"t":3775,"n":-0.023,"e":0.035},{"t":3795,"n":0.011,"e":-0.024},
{"t":3815,"n":-0.030,"e":0.012},{"t":3835,"n":0.016,"e":0.034},{"t":3855,"n":0.006,"e":-0.018},{"t":3875,"n":-0.012,"e":0.026},{"t":3895,"n":0.033,"e":-0.030},{"t":3915,"n":-0.026,"e":0.007},{"t":3935,"n":0.021,"e":-0.025},{"t":3955,"n":0.001,"e":0.019},{"t":3975,"n":-0.018,"e":0.032},{"t":3995,"n":0.029,"e":-0.004},
{"t":4015,"n":0.012,"e":-0.037},{"t":4035,"n":-0.033,"e":0.010},{"t":4055,"n":0.024,"e":0.028},{"t":4075,"n":0.037,"e":-0.009},{"t":4095,"n":-0.014,"e":0.019},{"t":4115,"n":0.006,"e":-0.031},{"t":4135,"n":-0.028,"e":0.036},{"t":4155,"n":0.019,"e":0.001},{"t":4175,"n":-0.005,"e":-0.016},{"t":4195,"n":0.031,"e":0.024},
{"t":4215,"n":-0.020,"e":0.033},{"t":4235,"n":0.009,"e":-0.022},{"t":4255,"n":-0.036,"e":0.006},{"t":4275,"n":0.027,"e":0.037},{"t":4295,"n":0.014,"e":-0.013},{"t":4315,"n":-0.009,"e":0.020},{"t":4335,"n":0.035,"e":-0.033},{"t":4355,"n":-0.024,"e":0.014},{"t":4375,"n":0.004,"e":0.025},{"t":4395,"n":-0.013,"e":-0.006},
{"t":4415,"n":0.026,"e":-0.018},{"t":4435,"n":-0.002,"e":0.030},{"t":4455,"n":0.017,"e":-0.004},{"t":4475,"n":-0.031,"e":0.015},{"t":4495,"n":0.039,"e":-0.036},{"t":4515,"n":-0.018,"e":0.027},{"t":4535,"n":0.010,"e":0.009},{"t":4555,"n":-0.038,"e":-0.024},{"t":4575,"n":0.022,"e":0.038},{"t":4595,"n":0.005,"e":0.003},
{"t":4615,"n":-0.015,"e":0.021},{"t":4635,"n":0.032,"e":-0.011},{"t":4655,"n":-0.027,"e":0.035},{"t":4675,"n":0.008,"e":-0.028},{"t":4695,"n":0.020,"e":0.012},{"t":4715,"n":-0.006,"e":0.002},{"t":4735,"n":0.029,"e":-0.019},{"t":4755,"n":-0.021,"e":0.031},{"t":4775,"n":0.013,"e":-0.037},{"t":4795,"n":0.037,"e":0.017},
{"t":4815,"n":-0.032,"e":-0.005},{"t":4835,"n":0.015,"e":0.024},{"t":4855,"n":0.004,"e":-0.030},{"t":4875,"n":-0.019,"e":0.038},{"t":4895,"n":0.034,"e":0.007},{"t":4915,"n":-0.011,"e":-0.020},{"t":4935,"n":0.023,"e":0.029},{"t":4955,"n":-0.035,"e":-0.013},{"t":4975,"n":0.008,"e":0.016},{"t":4995,"n":0.018,"e":-0.034},
{"t":5015,"n":0.028,"e":0.032},{"t":5035,"n":-0.024,"e":-0.016},{"t":5055,"n":0.011,"e":0.013},{"t":5075,"n":0.036,"e":-0.026},{"t":5095,"n":-0.008,"e":0.036},{"t":5115,"n":0.021,"e":0.005},{"t":5135,"n":-0.030,"e":-0.011},{"t":5155,"n":0.002,"e":0.023},{"t":5175,"n":0.033,"e":-0.038},{"t":5195,"n":-0.012,"e":0.019},
{"t":5215,"n":-0.037,"e":-0.023},{"t":5235,"n":0.020,"e":0.009},{"t":5255,"n":-0.004,"e":0.034},{"t":5275,"n":0.013,"e":-0.006},{"t":5295,"n":-0.021,"e":0.022},{"t":5315,"n":0.030,"e":-0.032},{"t":5335,"n":0.007,"e":0.017},{"t":5355,"n":-0.016,"e":0.028},{"t":5375,"n":0.024,"e":-0.014},{"t":5395,"n":-0.029,"e":0.001},
{"t":5415,"n":0.009,"e":0.030},{"t":5435,"n":0.035,"e":-0.027},{"t":5455,"n":-0.014,"e":0.005},{"t":5475,"n":-0.032,"e":0.021},{"t":5495,"n":0.018,"e":-0.010},{"t":5515,"n":0.001,"e":0.037},{"t":5535,"n":0.026,"e":-0.021},{"t":5555,"n":-0.022,"e":0.012},{"t":5575,"n":0.038,"e":-0.003},{"t":5595,"n":-0.007,"e":0.026},
{"t":5615,"n":-0.018,"e":-0.035},{"t":5635,"n":0.012,"e":0.016},{"t":5655,"n":0.031,"e":-0.008},{"t":5675,"n":-0.010,"e":0.029},{"t":5695,"n":-0.026,"e":0.004},{"t":5715,"n":0.022,"e":-0.019},{"t":5735,"n":-0.035,"e":0.033},{"t":5755,"n":0.016,"e":-0.030},{"t":5775,"n":0.003,"e":0.020},{"t":5795,"n":0.029,"e":0.007},
{"t":5815,"n":0.020,"e":0.024},{"t":5835,"n":-0.028,"e":-0.004},{"t":5855,"n":0.006,"e":0.036},{"t":5875,"n":0.033,"e":-0.022},{"t":5895,"n":-0.017,"e":0.013},{"t":5915,"n":0.010,"e":-0.033},{"t":5935,"n":-0.003,"e":0.027},{"t":5955,"n":0.027,"e":0.001},{"t":5975,"n":-0.036,"e":-0.015},{"t":5995,"n":0.014,"e":0.031}
],
"ins":[
{"t":0,"a":0.008,"b":0.002,"c":-0.010,"d":-0.002},{"t":20,"a":-0.012,"b":0.005,"c":0.014,"d":0.001},{"t":40,"a":0.018,"b":0.001,"c":-0.004,"d":0.004},{"t":60,"a":-0.004,"b":-0.003,"c":0.019,"d":0.002},{"t":80,"a":0.013,"b":0,"c":-0.016,"d":-0.001},{"t":100,"a":-0.019,"b":0.004,"c":0.007,"d":-0.004},{"t":120,"a":0.002,"b":0.008,"c":0.002,"d":0},{"t":140,"a":0.021,"b":0.006,"c":-0.021,"d":0.003},{"t":160,"a":-0.010,"b":0.002,"c":0.011,"d":0.006},{"t":180,"a":0.006,"b":-0.002,"c":-0.006,"d":0.003},
{"t":200,"a":-0.015,"b":-0.004,"c":0.016,"d":0},{"t":220,"a":0.011,"b":0,"c":-0.012,"d":-0.003},{"t":240,"a":0.024,"b":0.003,"c":0.022,"d":-0.006},{"t":260,"a":-0.007,"b":0.007,"c":0.003,"d":-0.002},{"t":280,"a":-0.020,"b":0.004,"c":-0.018,"d":0.001},{"t":300,"a":0.009,"b":0.001,"c":0.009,"d":0.005},{"t":320,"a":0.015,"b":-0.003,"c":-0.002,"d":0.008},{"t":340,"a":-0.013,"b":-0.006,"c":0.020,"d":0.005},{"t":360,"a":0.004,"b":-0.002,"c":-0.013,"d":0.002},{"t":380,"a":0.019,"b":0.002,"c":0.006,"d":0.004},
{"t":400,"a":-0.009,"b":0.006,"c":-0.019,"d":0.007},{"t":420,"a":-0.022,"b":0.009,"c":0.013,"d":0.004},{"t":440,"a":0.012,"b":0.005,"c":0.024,"d":0},{"t":460,"a":0.027,"b":0.001,"c":-0.008,"d":-0.003},{"t":480,"a":-0.003,"b":-0.002,"c":0.018,"d":0.001},{"t":500,"a":0.008,"b":-0.005,"c":0.031,"d":0.004},{"t":520,"a":-0.017,"b":-0.008,"c":-0.011,"d":0.001},{"t":540,"a":0.014,"b":-0.004,"c":0.004,"d":-0.003},{"t":560,"a":-0.006,"b":0,"c":-0.023,"d":-0.006},{"t":580,"a":0.020,"b":0.003,"c":0.015,"d":-0.002},
{"t":600,"a":0.001,"b":0.001,"c":0.001,"d":0.002},{"t":620,"a":-0.014,"b":-0.003,"c":-0.014,"d":0.005},{"t":640,"a":0.016,"b":0.002,"c":0.021,"d":0.008},{"t":660,"a":-0.021,"b":0.006,"c":-0.006,"d":0.011},{"t":680,"a":0.010,"b":0.004,"c":0.010,"d":0.013},{"t":700,"a":0.023,"b":0,"c":-0.020,"d":0.009},{"t":720,"a":-0.008,"b":-0.004,"c":0.017,"d":0.005},{"t":740,"a":-0.016,"b":-0.009,"c":0.005,"d":0.001},{"t":760,"a":0.005,"b":-0.006,"c":-0.012,"d":-0.002},{"t":780,"a":0.013,"b":-0.002,"c":0.023,"d":0.001},
{"t":800,"a":-0.018,"b":0.001,"c":-0.009,"d":0.004},{"t":820,"a":0.007,"b":0.005,"c":0.012,"d":0.007},{"t":840,"a":0.019,"b":0.003,"c":-0.024,"d":0.003},{"t":860,"a":-0.011,"b":-0.001,"c":0.008,"d":-0.001},{"t":880,"a":-0.026,"b":-0.005,"c":0.019,"d":-0.004},{"t":900,"a":0.015,"b":-0.002,"c":-0.003,"d":-0.001},{"t":920,"a":0.003,"b":0.002,"c":-0.016,"d":0.003},{"t":940,"a":-0.009,"b":0.006,"c":0.014,"d":0.006},{"t":960,"a":0.022,"b":0.010,"c":0.002,"d":0.003},{"t":980,"a":-0.005,"b":0.007,"c":-0.011,"d":-0.001},
{"t":1000,"a":0.011,"b":0.003,"c":0.020,"d":-0.005},{"t":1020,"a":-0.019,"b":-0.001,"c":-0.007,"d":-0.002},{"t":1040,"a":0.006,"b":-0.004,"c":0.011,"d":0.002},{"t":1060,"a":0.017,"b":0,"c":-0.019,"d":0.005},{"t":1080,"a":-0.013,"b":0.004,"c":0.005,"d":0.009},{"t":1100,"a":0.025,"b":0.002,"c":0.016,"d":0.006},{"t":1120,"a":-0.002,"b":-0.002,"c":-0.013,"d":0.002},{"t":1140,"a":-0.015,"b":-0.006,"c":0.024,"d":-0.002},{"t":1160,"a":0.009,"b":-0.003,"c":-0.004,"d":-0.005},{"t":1180,"a":0.018,"b":0.001,"c":0.009,"d":-0.008},
{"t":1200,"a":-0.008,"b":0.005,"c":-0.017,"d":-0.004},{"t":1220,"a":0.013,"b":0.008,"c":0.013,"d":0},{"t":1240,"a":-0.021,"b":0.004,"c":0.001,"d":0.004},{"t":1260,"a":0.004,"b":0,"c":-0.022,"d":0.001},{"t":1280,"a":0.020,"b":-0.003,"c":0.010,"d":-0.003},{"t":1300,"a":-0.011,"b":0.001,"c":0.019,"d":0.001},{"t":1320,"a":0.010,"b":0.006,"c":-0.028,"d":0.005},{"t":1340,"a":-0.017,"b":0.011,"c":-0.008,"d":0.002},{"t":1360,"a":0.028,"b":0.016,"c":0.015,"d":-0.002},{"t":1380,"a":0.035,"b":0.012,"c":-0.003,"d":-0.006},
{"t":1400,"a":-0.006,"b":0.007,"c":0.021,"d":-0.003},{"t":1420,"a":-0.018,"b":0.003,"c":-0.014,"d":0.001},{"t":1440,"a":0.012,"b":-0.001,"c":0.007,"d":0.005},{"t":1460,"a":0.021,"b":-0.005,"c":-0.020,"d":0.008},{"t":1480,"a":-0.010,"b":-0.002,"c":0.012,"d":0.004},{"t":1500,"a":0.005,"b":0.002,"c":0.004,"d":0},{"t":1520,"a":-0.023,"b":0.006,"c":0.018,"d":-0.003},{"t":1540,"a":0.016,"b":0.003,"c":0.028,"d":0},{"t":1560,"a":0.001,"b":-0.002,"c":-0.010,"d":0.004},{"t":1580,"a":0.014,"b":-0.006,"c":0.006,"d":0.007},
{"t":1600,"a":-0.013,"b":-0.003,"c":-0.016,"d":0.003},{"t":1620,"a":0.019,"b":0.001,"c":0.019,"d":-0.001},{"t":1640,"a":-0.004,"b":0.005,"c":-0.005,"d":-0.005},{"t":1660,"a":0.010,"b":0.002,"c":0.011,"d":-0.009},{"t":1680,"a":-0.020,"b":-0.002,"c":-0.021,"d":-0.005},{"t":1700,"a":0.024,"b":-0.006,"c":0.015,"d":-0.001},{"t":1720,"a":0.006,"b":-0.010,"c":0.003,"d":0.003},{"t":1740,"a":-0.012,"b":-0.005,"c":-0.012,"d":0},{"t":1760,"a":0.015,"b":-0.001,"c":0.022,"d":-0.004},{"t":1780,"a":-0.017,"b":0.003,"c":-0.008,"d":-0.001},
{"t":1800,"a":0.009,"b":0.006,"c":0.013,"d":0.003},{"t":1820,"a":0.022,"b":0.004,"c":-0.018,"d":0.006},{"t":1840,"a":-0.008,"b":0,"c":0.009,"d":0.002},{"t":1860,"a":-0.019,"b":-0.003,"c":0.020,"d":-0.002},{"t":1880,"a":0.013,"b":0.001,"c":-0.006,"d":-0.006},{"t":1900,"a":0.002,"b":0.005,"c":0.014,"d":-0.003},{"t":1920,"a":0.018,"b":0.008,"c":-0.015,"d":0.001},{"t":1940,"a":-0.014,"b":0.005,"c":0.005,"d":0.005},{"t":1960,"a":0.007,"b":0.001,"c":-0.024,"d":0.002},{"t":1980,"a":-0.024,"b":-0.002,"c":-0.028,"d":-0.002},
{"t":2000,"a":0.016,"b":-0.005,"c":0.010,"d":0.002},{"t":2020,"a":-0.003,"b":-0.002,"c":-0.009,"d":0.006},{"t":2040,"a":0.011,"b":0.002,"c":0.017,"d":0.010},{"t":2060,"a":-0.016,"b":0,"c":-0.003,"d":0.007},{"t":2080,"a":0.026,"b":-0.004,"c":0.023,"d":0.003},{"t":2100,"a":-0.009,"b":-0.001,"c":-0.014,"d":-0.001},{"t":2120,"a":0.004,"b":0.003,"c":0.006,"d":0.002},{"t":2140,"a":0.014,"b":0.007,"c":-0.019,"d":0.006},{"t":2160,"a":-0.021,"b":0.004,"c":0.012,"d":0.003},{"t":2180,"a":0.008,"b":0,"c":0.002,"d":-0.001},
{"t":2200,"a":-0.011,"b":-0.003,"c":-0.011,"d":-0.004},{"t":2220,"a":0.020,"b":-0.007,"c":0.018,"d":-0.001},{"t":2240,"a":-0.005,"b":-0.004,"c":-0.020,"d":0.003},{"t":2260,"a":0.012,"b":0,"c":0.008,"d":0},{"t":2280,"a":-0.018,"b":0.004,"c":0.015,"d":-0.003},{"t":2300,"a":0.017,"b":0.001,"c":-0.006,"d":0.001},{"t":2320,"a":0.030,"b":-0.002,"c":0.024,"d":0.004},{"t":2340,"a":-0.007,"b":0.002,"c":-0.012,"d":0.008},{"t":2360,"a":0.003,"b":0.006,"c":0.003,"d":0.005},{"t":2380,"a":-0.015,"b":0.009,"c":-0.017,"d":0.001},
{"t":2400,"a":0.019,"b":0.005,"c":0.014,"d":-0.003},{"t":2420,"a":-0.012,"b":0.001,"c":0.004,"d":-0.006},{"t":2440,"a":0.007,"b":-0.003,"c":-0.015,"d":-0.002},{"t":2460,"a":-0.025,"b":-0.006,"c":0.021,"d":0.002},{"t":2480,"a":0.014,"b":-0.002,"c":-0.009,"d":0.005},{"t":2500,"a":0.001,"b":0.001,"c":0.011,"d":0.002},{"t":2520,"a":-0.010,"b":0.004,"c":-0.022,"d":-0.002},{"t":2540,"a":0.022,"b":0.002,"c":0.016,"d":-0.005},{"t":2560,"a":-0.004,"b":-0.001,"c":0.001,"d":-0.009},{"t":2580,"a":0.011,"b":-0.004,"c":-0.010,"d":-0.005},
{"t":2600,"a":-0.017,"b":0,"c":0.019,"d":-0.001},{"t":2620,"a":0.009,"b":0.004,"c":-0.005,"d":0.003},{"t":2640,"a":0.024,"b":0.007,"c":0.010,"d":0.006},{"t":2660,"a":-0.006,"b":0.003,"c":-0.018,"d":0.003},{"t":2680,"a":-0.014,"b":-0.001,"c":0.025,"d":-0.001},{"t":2700,"a":0.018,"b":-0.004,"c":-0.012,"d":-0.004},{"t":2720,"a":-0.001,"b":-0.001,"c":0.006,"d":0},{"t":2740,"a":0.013,"b":0.003,"c":0.015,"d":0.004},{"t":2760,"a":-0.020,"b":0,"c":-0.020,"d":0.001},{"t":2780,"a":0.005,"b":-0.003,"c":0.008,"d":-0.002},
{"t":2800,"a":0.016,"b":-0.006,"c":-0.007,"d":0.002},{"t":2820,"a":-0.010,"b":-0.003,"c":0.013,"d":0.005},{"t":2840,"a":0.002,"b":0.001,"c":-0.016,"d":0.002},{"t":2860,"a":0.021,"b":0.005,"c":0.004,"d":-0.002},{"t":2880,"a":-0.016,"b":0.002,"c":0.020,"d":-0.005},{"t":2900,"a":0.010,"b":-0.001,"c":-0.011,"d":-0.002},{"t":2920,"a":-0.022,"b":0.003,"c":0.009,"d":0.002},{"t":2940,"a":0.008,"b":0.006,"c":-0.023,"d":0.006},{"t":2960,"a":0.017,"b":0.003,"c":0.014,"d":0.009},{"t":2980,"a":-0.007,"b":0,"c":0.002,"d":0.005},
{"t":3000,"a":0.012,"b":-0.004,"c":-0.013,"d":0.001},{"t":3020,"a":-0.019,"b":-0.001,"c":0.018,"d":-0.003},{"t":3040,"a":0.025,"b":0.003,"c":-0.004,"d":0.001},{"t":3060,"a":-0.003,"b":0,"c":0.011,"d":0.004},{"t":3080,"a":0.009,"b":0.005,"c":-0.019,"d":0.001},{"t":3100,"a":-0.013,"b":0.009,"c":0.024,"d":-0.002},{"t":3120,"a":0.020,"b":0.006,"c":0.030,"d":0.002},{"t":3140,"a":0.036,"b":0.002,"c":-0.009,"d":0.005},{"t":3160,"a":-0.029,"b":-0.002,"c":0.016,"d":0.008},{"t":3180,"a":0.006,"b":-0.005,"c":-0.014,"d":0.004},
{"t":3200,"a":-0.012,"b":-0.002,"c":0.007,"d":0},{"t":3220,"a":0.015,"b":0.002,"c":-0.021,"d":-0.004},{"t":3240,"a":-0.006,"b":0.005,"c":0.012,"d":-0.008},{"t":3260,"a":0.022,"b":0.002,"c":0.003,"d":-0.004},{"t":3280,"a":-0.018,"b":-0.001,"c":-0.010,"d":0},{"t":3300,"a":0.004,"b":0.003,"c":0.019,"d":0.004},{"t":3320,"a":0.011,"b":0.007,"c":-0.006,"d":0.001},{"t":3340,"a":-0.021,"b":0.004,"c":0.014,"d":-0.003},{"t":3360,"a":0.017,"b":0,"c":-0.017,"d":0.001},{"t":3380,"a":-0.002,"b":-0.003,"c":0.009,"d":0.005},
{"t":3400,"a":0.008,"b":0.001,"c":0.021,"d":0.008},{"t":3420,"a":-0.015,"b":0.004,"c":-0.012,"d":0.005},{"t":3440,"a":0.019,"b":0.001,"c":0.005,"d":0.001},{"t":3460,"a":0.003,"b":-0.003,"c":-0.024,"d":-0.002},{"t":3480,"a":-0.024,"b":-0.006,"c":0.015,"d":0.001},{"t":3500,"a":0.013,"b":-0.002,"c":0.001,"d":0.005},{"t":3520,"a":-0.008,"b":0.002,"c":-0.008,"d":0.009},{"t":3540,"a":0.027,"b":0.005,"c":0.022,"d":0.006},{"t":3560,"a":-0.011,"b":0.002,"c":-0.015,"d":0.002},{"t":3580,"a":0.005,"b":-0.001,"c":0.010,"d":-0.001},
{"t":3600,"a":0.017,"b":-0.004,"c":-0.003,"d":-0.004},{"t":3620,"a":-0.020,"b":-0.001,"c":0.017,"d":-0.001},{"t":3640,"a":0.010,"b":0.003,"c":-0.019,"d":0.003},{"t":3660,"a":-0.005,"b":0.006,"c":0.008,"d":0},{"t":3680,"a":0.023,"b":0.003,"c":0.026,"d":-0.004},{"t":3700,"a":-0.013,"b":-0.001,"c":-0.010,"d":-0.007},{"t":3720,"a":0.001,"b":-0.004,"c":0.004,"d":-0.003},{"t":3740,"a":0.015,"b":-0.007,"c":-0.016,"d":0.001},{"t":3760,"a":-0.018,"b":-0.003,"c":0.013,"d":0.004},{"t":3780,"a":0.009,"b":0,"c":-0.006,"d":0.001},
{"t":3800,"a":-0.009,"b":0.003,"c":0.018,"d":-0.002},{"t":3820,"a":0.020,"b":0,"c":-0.013,"d":0.002},{"t":3840,"a":-0.016,"b":-0.004,"c":0.009,"d":0.006},{"t":3860,"a":0.006,"b":-0.007,"c":-0.021,"d":0.010},{"t":3880,"a":-0.027,"b":-0.010,"c":0.012,"d":0.007},{"t":3900,"a":0.012,"b":-0.006,"c":0.002,"d":0.003},{"t":3920,"a":0.018,"b":-0.003,"c":-0.011,"d":0.006},{"t":3940,"a":-0.004,"b":-0.006,"c":0.023,"d":0.009},{"t":3960,"a":0.009,"b":-0.009,"c":-0.007,"d":0.005},{"t":3980,"a":-0.019,"b":-0.005,"c":0.015,"d":0.001},
{"t":4000,"a":0.031,"b":-0.002,"c":-0.018,"d":-0.002},{"t":4020,"a":-0.012,"b":-0.005,"c":0.006,"d":0.001},{"t":4040,"a":0.004,"b":-0.008,"c":0.020,"d":0.004},{"t":4060,"a":-0.021,"b":-0.004,"c":-0.009,"d":0.001},{"t":4080,"a":0.014,"b":-0.001,"c":0.013,"d":-0.003},{"t":4100,"a":-0.007,"b":-0.004,"c":-0.022,"d":-0.006},{"t":4120,"a":0.019,"b":-0.007,"c":0.010,"d":-0.002},{"t":4140,"a":-0.015,"b":-0.003,"c":-0.003,"d":0.002},{"t":4160,"a":0.002,"b":0,"c":0.017,"d":0.006},{"t":4180,"a":0.010,"b":-0.003,"c":-0.014,"d":0.003},
{"t":4200,"a":-0.018,"b":-0.006,"c":0.005,"d":0},{"t":4220,"a":0.008,"b":-0.009,"c":0.022,"d":-0.003},{"t":4240,"a":0.016,"b":-0.005,"c":-0.012,"d":0.001},{"t":4260,"a":-0.010,"b":-0.002,"c":0.008,"d":0.005},{"t":4280,"a":0.021,"b":-0.005,"c":-0.017,"d":0.002},{"t":4300,"a":-0.024,"b":-0.008,"c":0.014,"d":-0.002},{"t":4320,"a":-0.030,"b":-0.004,"c":0.001,"d":0.001},{"t":4340,"a":0.011,"b":0,"c":-0.020,"d":0.004},{"t":4360,"a":-0.004,"b":-0.003,"c":0.011,"d":0.001},{"t":4380,"a":0.015,"b":-0.006,"c":0.019,"d":-0.003},
{"t":4400,"a":-0.013,"b":-0.002,"c":-0.008,"d":-0.006},{"t":4420,"a":0.003,"b":0.001,"c":0.015,"d":-0.002},{"t":4440,"a":0.018,"b":-0.003,"c":-0.023,"d":0.002},{"t":4460,"a":-0.020,"b":-0.007,"c":0.004,"d":0.005},{"t":4480,"a":0.009,"b":-0.004,"c":0.012,"d":0.008},{"t":4500,"a":-0.026,"b":-0.001,"c":-0.013,"d":0.005},{"t":4520,"a":0.013,"b":-0.005,"c":0.027,"d":0.001},{"t":4540,"a":0.006,"b":-0.009,"c":-0.005,"d":-0.002},{"t":4560,"a":-0.011,"b":-0.006,"c":0.009,"d":0.001},{"t":4580,"a":0.020,"b":-0.002,"c":-0.016,"d":0.004},
{"t":4600,"a":-0.005,"b":0.001,"c":0.013,"d":0.007},{"t":4620,"a":0.014,"b":0.004,"c":-0.010,"d":0.004},{"t":4640,"a":-0.017,"b":0.001,"c":0.020,"d":0},{"t":4660,"a":0.010,"b":-0.002,"c":-0.004,"d":-0.003},{"t":4680,"a":0.024,"b":0.002,"c":-0.018,"d":-0.006},{"t":4700,"a":-0.009,"b":0.005,"c":0.010,"d":-0.002},{"t":4720,"a":0.002,"b":0.002,"c":0.016,"d":0.002},{"t":4740,"a":-0.022,"b":-0.001,"c":-0.012,"d":-0.001},{"t":4760,"a":0.016,"b":-0.004,"c":0.006,"d":-0.005},{"t":4780,"a":-0.003,"b":0,"c":-0.021,"d":-0.002},
{"t":4800,"a":0.011,"b":0.003,"c":0.014,"d":0.001},{"t":4820,"a":-0.015,"b":0.006,"c":-0.028,"d":0.005},{"t":4840,"a":0.021,"b":0.003,"c":0.003,"d":0.002},{"t":4860,"a":-0.007,"b":-0.001,"c":0.018,"d":-0.002},{"t":4880,"a":0.005,"b":-0.004,"c":-0.009,"d":0.001},{"t":4900,"a":-0.019,"b":0,"c":0.011,"d":0.004},{"t":4920,"a":0.015,"b":0.004,"c":-0.015,"d":0.007},{"t":4940,"a":0.026,"b":0.007,"c":0.022,"d":0.004},{"t":4960,"a":-0.012,"b":0.004,"c":-0.002,"d":0},{"t":4980,"a":0.007,"b":0.001,"c":0.008,"d":-0.003},
{"t":5000,"a":-0.021,"b":-0.002,"c":-0.019,"d":0},{"t":5020,"a":0.012,"b":0.001,"c":0.012,"d":0.003},{"t":5040,"a":-0.002,"b":0.005,"c":0.024,"d":0},{"t":5060,"a":0.018,"b":0.002,"c":-0.011,"d":-0.004},{"t":5080,"a":-0.014,"b":-0.002,"c":0.006,"d":-0.007},{"t":5100,"a":0.009,"b":-0.005,"c":-0.016,"d":-0.004},{"t":5120,"a":-0.025,"b":-0.002,"c":0.017,"d":0},{"t":5140,"a":0.020,"b":0.002,"c":0.001,"d":0.003},{"t":5160,"a":0.004,"b":0.005,"c":-0.013,"d":0.006},{"t":5180,"a":-0.010,"b":0.002,"c":0.020,"d":0.002},
{"t":5200,"a":0.016,"b":-0.001,"c":-0.005,"d":-0.002},{"t":5220,"a":-0.006,"b":-0.004,"c":0.010,"d":-0.006},{"t":5240,"a":0.023,"b":0,"c":-0.021,"d":-0.010},{"t":5260,"a":-0.018,"b":0.003,"c":0.015,"d":-0.014},{"t":5280,"a":0.010,"b":0.006,"c":0.003,"d":-0.008},{"t":5300,"a":0.001,"b":0.003,"c":-0.012,"d":-0.003},{"t":5320,"a":-0.013,"b":0,"c":0.021,"d":0.001},{"t":5340,"a":0.019,"b":-0.003,"c":-0.008,"d":0.004},{"t":5360,"a":-0.022,"b":-0.006,"c":0.012,"d":0.001},{"t":5380,"a":0.008,"b":-0.002,"c":-0.017,"d":-0.003},
{"t":5400,"a":0.013,"b":0.001,"c":0.009,"d":0.001},{"t":5420,"a":-0.017,"b":0.004,"c":0.023,"d":0.005},{"t":5440,"a":0.005,"b":0.007,"c":-0.010,"d":0.002},{"t":5460,"a":0.024,"b":0.004,"c":0.005,"d":-0.002},{"t":5480,"a":-0.009,"b":0,"c":-0.019,"d":0.002},{"t":5500,"a":0.015,"b":-0.003,"c":0.014,"d":0.006},{"t":5520,"a":-0.020,"b":0.001,"c":-0.003,"d":0.003},{"t":5540,"a":0.011,"b":0.005,"c":0.018,"d":-0.001},{"t":5560,"a":0.002,"b":0.002,"c":-0.014,"d":0.003},{"t":5580,"a":-0.014,"b":-0.002,"c":0.007,"d":0.007},
{"t":5600,"a":0.019,"b":-0.005,"c":0.016,"d":0.004},{"t":5620,"a":0.029,"b":-0.002,"c":-0.009,"d":0},{"t":5640,"a":-0.011,"b":0.002,"c":0.012,"d":0.004},{"t":5660,"a":0.006,"b":0.006,"c":-0.022,"d":0.008},{"t":5680,"a":-0.023,"b":0.010,"c":0.019,"d":0.011},{"t":5700,"a":0.014,"b":0.006,"c":0.002,"d":0.014},{"t":5720,"a":-0.004,"b":0.002,"c":-0.011,"d":0.010},{"t":5740,"a":0.021,"b":-0.001,"c":0.026,"d":0.006},{"t":5760,"a":-0.016,"b":-0.004,"c":0.029,"d":0.002},{"t":5780,"a":0.010,"b":-0.001,"c":-0.006,"d":0.005},
{"t":5800,"a":-0.008,"b":0.003,"c":0.013,"d":0.001},{"t":5820,"a":0.017,"b":0.006,"c":-0.016,"d":-0.003},{"t":5840,"a":-0.020,"b":0.002,"c":0.008,"d":0},{"t":5860,"a":0.004,"b":-0.002,"c":0.021,"d":0.004},{"t":5880,"a":0.026,"b":-0.005,"c":-0.010,"d":0.001},{"t":5900,"a":-0.012,"b":-0.002,"c":0.004,"d":-0.003},{"t":5920,"a":0.009,"b":0.001,"c":-0.024,"d":0.001},{"t":5940,"a":-0.018,"b":0.004,"c":0.015,"d":0.005},{"t":5960,"a":0.012,"b":0.001,"c":-0.018,"d":0.002},{"t":5980,"a":-0.006,"b":-0.002,"c":0.006,"d":-0.001},
{"t":6000,"a":0.003,"b":0.001,"c":-0.004,"d":0.002}
]
},
"hconcat":[
{"width":476,"height":376,
"layer":[
{"data":{"name":"dvl"},"mark":{"type":"point","filled":true,"size":576,"opacity":1,"strokeWidth":0,"clip":true},
"encoding":{
"x":{"field":"t","type":"quantitative","scale":{"domain":[0,6000],"nice":false},"axis":{"values":[0,1000,2000,3000,4000,5000,6000],"labelExpr":"'' + datum.value","title":"t [s]"}},
"y":{"field":"n","type":"quantitative","scale":{"domain":[-0.08,0.1],"nice":false,"zero":false},"axis":{"values":[-0.08,-0.06,-0.04,-0.02,0,0.02,0.04,0.06,0.08,0.1],"labelExpr":"'' + datum.value","title":"δvN [m/s]"}},
"color":{"datum":"DVL","scale":{"domain":["DVL","INS/DVL/PM (HG1700)","INS/DVL/PM (KI-4901)"],"range":["#808080","#0000ff","#ff0000"]},"legend":{"title":null,"orient":"none","legendX":6,"legendY":4}},
"shape":{"datum":"DVL","scale":{"domain":["DVL","INS/DVL/PM (HG1700)","INS/DVL/PM (KI-4901)"],"range":["M-0.065,-0.32H0.065V-0.065H0.32V0.065H0.065V0.32H-0.065V0.065H-0.32V-0.065H-0.065Z","M-1.47,-0.16H1.47V0.16H-1.47Z","M-1.47,-0.16H1.47V0.16H-1.47Z"]},"legend":{"title":null,"orient":"none","legendX":6,"legendY":4}}
}},
{"data":{"name":"ins"},"mark":{"type":"line","color":"#0000ff","strokeWidth":3,"strokeJoin":"round","clip":true},"encoding":{"x":{"field":"t","type":"quantitative"},"y":{"field":"a","type":"quantitative"}}},
{"data":{"name":"ins"},"mark":{"type":"line","color":"#ff0000","strokeWidth":4,"strokeJoin":"round","clip":true},"encoding":{"x":{"field":"t","type":"quantitative"},"y":{"field":"b","type":"quantitative"}}}
]},
{"width":474,"height":376,
"layer":[
{"data":{"name":"dvl"},"mark":{"type":"point","filled":true,"size":576,"opacity":1,"strokeWidth":0,"clip":true},
"encoding":{
"x":{"field":"t","type":"quantitative","scale":{"domain":[0,6000],"nice":false},"axis":{"values":[0,1000,2000,3000,4000,5000,6000],"labelExpr":"'' + datum.value","title":"t [s]"}},
"y":{"field":"e","type":"quantitative","scale":{"domain":[-0.08,0.08],"nice":false,"zero":false},"axis":{"values":[-0.08,-0.06,-0.04,-0.02,0,0.02,0.04,0.06,0.08],"labelExpr":"'' + datum.value","title":"δvE [m/s]"}},
"color":{"datum":"DVL","scale":{"domain":["DVL","INS/DVL/PM (HG1700)","INS/DVL/PM (KI-4901)"],"range":["#808080","#0000ff","#ff0000"]},"legend":{"title":null,"orient":"none","legendX":6,"legendY":4}},
"shape":{"datum":"DVL","scale":{"domain":["DVL","INS/DVL/PM (HG1700)","INS/DVL/PM (KI-4901)"],"range":["M-0.065,-0.32H0.065V-0.065H0.32V0.065H0.065V0.32H-0.065V0.065H-0.32V-0.065H-0.065Z","M-1.47,-0.16H1.47V0.16H-1.47Z","M-1.47,-0.16H1.47V0.16H-1.47Z"]},"legend":{"title":null,"orient":"none","legendX":6,"legendY":4}}
}},
{"data":{"name":"ins"},"mark":{"type":"line","color":"#0000ff","strokeWidth":3,"strokeJoin":"round","clip":true},"encoding":{"x":{"field":"t","type":"quantitative"},"y":{"field":"c","type":"quantitative"}}},
{"data":{"name":"ins"},"mark":{"type":"line","color":"#ff0000","strokeWidth":4,"strokeJoin":"round","clip":true},"encoding":{"x":{"field":"t","type":"quantitative"},"y":{"field":"d","type":"quantitative"}}}
]}
]
}
